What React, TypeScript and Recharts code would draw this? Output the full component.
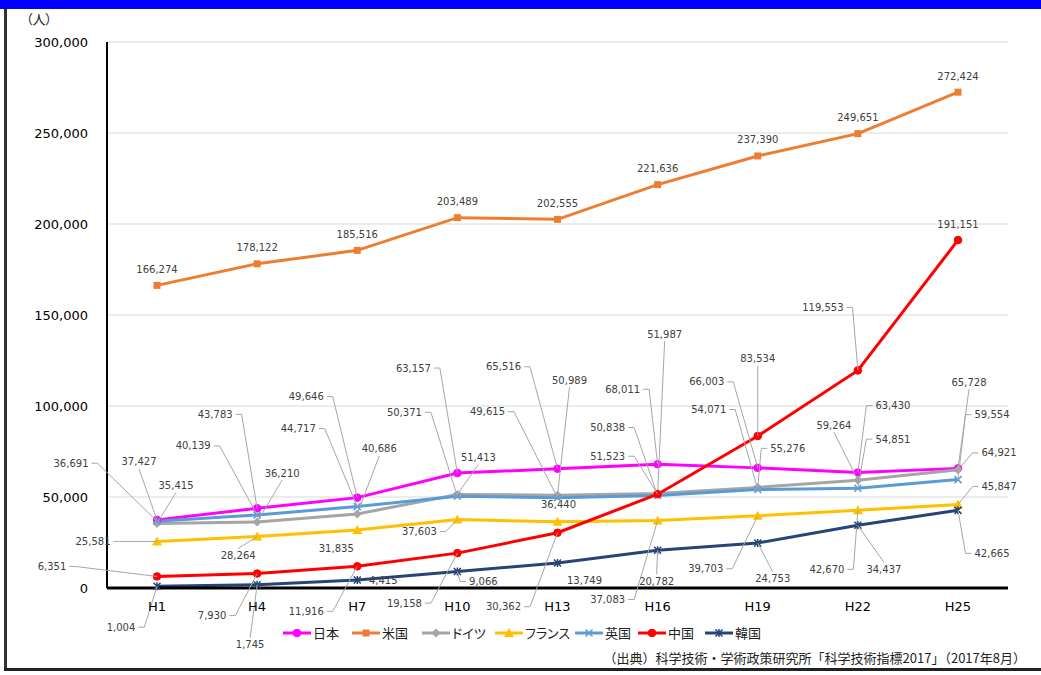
import { LineChart, Line, XAxis, YAxis, CartesianGrid } from "recharts";

const eras = ["H1", "H4", "H7", "H10", "H13", "H16", "H19", "H22", "H25"];
const japan = [37427, 43783, 49646, 63157, 65516, 68011, 66003, 63430, 65728];
const usa = [166274, 178122, 185516, 203489, 202555, 221636, 237390, 249651, 272424];
const germany = [35415, 36210, 40686, 51413, 50989, 51987, 55276, 59264, 64921];
const france = [25581, 28264, 31835, 37603, 36440, 37083, 39703, 42670, 45847];
const uk = [36691, 40139, 44717, 50371, 49615, 50838, 54071, 54851, 59554];
const china = [6351, 7930, 11916, 19158, 30362, 51523, 83534, 119553, 191151];
const korea = [1004, 1745, 4415, 9066, 13749, 20782, 24753, 34437, 42665];
const yTicks = [0, 50000, 100000, 150000, 200000, 250000, 300000];

// where each data label sits, relative to its point: [dx, dy, leader line?]
type Pos = [number, number, boolean];
const japanPos: Pos[] = [[-18, -58, true], [-42, -94, true], [-51, -101, true], [-44, -105, true], [-54, -102, true], [-35, -75, true], [-51, -86, true], [35, -67, true], [11, -86, true]];
const usaPos: Pos[] = eras.map(() => [0, -16, false]);
const germanyPos: Pos[] = [[19, -38, true], [25, -49, true], [22, -65, true], [21, -37, true], [12, -115, true], [7, -159, true], [30, -39, true], [-24, -55, true], [41, -17, true]];
const francePos: Pos[] = [[-64, 0, true], [-19, 19, true], [-21, 18, false], [-38, 12, true], [1, -17, false], [-50, 79, true], [-52, 53, true], [-31, 59, true], [41, -18, true]];
const ukPos: Pos[] = [[-86, -58, true], [-64, -69, true], [-59, -78, true], [-53, -84, true], [-70, -86, true], [-50, -68, true], [-49, -80, true], [35, -49, true], [34, -65, true]];
const chinaPos: Pos[] = [[-105, -10, true], [-45, 42, true], [-51, 45, true], [-53, 50, true], [-54, 74, true], [-50, -38, true], [0, -77, true], [-35, -63, true], [0, -16, false]];
const koreaPos: Pos[] = [[-36, 41, true], [-7, 60, true], [26, 1, false], [26, 10, true], [27, 18, false], [-1, 31, true], [15, 36, true], [26, 44, true], [34, 43, true]];

const data = eras.map((era, i) => ({
  era,
  japan: japan[i],
  usa: usa[i],
  germany: germany[i],
  france: france[i],
  uk: uk[i],
  china: china[i],
  korea: korea[i],
}));

const fmt = (v: number) => v.toLocaleString("en-US");
const textWidth = (s: string) => s.split("").reduce((w, c) => w + (c === "," ? 3.18 : 6.36), 0);

function Marker({ shape, cx, cy, color }: { shape: string; cx: number; cy: number; color: string }) {
  switch (shape) {
    case "circle":
      return <circle cx={cx} cy={cy} r={3.8} fill={color} stroke={color} />;
    case "square":
      return <rect x={cx - 3.5} y={cy - 3.5} width={7} height={7} fill={color} />;
    case "diamond":
      return <polygon points={`${cx},${cy - 4.5} ${cx + 4.5},${cy} ${cx},${cy + 4.5} ${cx - 4.5},${cy}`} fill={color} />;
    case "triangle":
      return <polygon points={`${cx},${cy - 5} ${cx + 5},${cy + 4} ${cx - 5},${cy + 4}`} fill={color} />;
    case "x":
      return (
        <path d={`M${cx - 3.5},${cy - 3.5}L${cx + 3.5},${cy + 3.5}M${cx - 3.5},${cy + 3.5}L${cx + 3.5},${cy - 3.5}`} stroke={color} strokeWidth={1.5} />
      );
    default:
      return (
        <path
          d={`M${cx - 3.5},${cy - 3.5}L${cx + 3.5},${cy + 3.5}M${cx - 3.5},${cy + 3.5}L${cx + 3.5},${cy - 3.5}M${cx},${cy - 4}L${cx},${cy + 4}`}
          stroke={color}
          strokeWidth={1.5}
        />
      );
  }
}

function DataLabel({ cx, cy, text, pos }: { cx: number; cy: number; text: string; pos: Pos }) {
  const [dx, dy, leader] = pos;
  const lx = cx + dx;
  const ly = cy + dy;
  const hw = textWidth(text) / 2;
  const hh = 6;
  let d = "";
  if (leader) {
    const gapX = Math.abs(dx) - hw;
    if (gapX > 10 && dx < 0) {
      const sx = lx + hw + 3;
      d = `M${sx},${ly}H${sx + 6}L${cx},${cy}`;
    } else if (gapX > 10) {
      const sx = lx - hw - 3;
      d = `M${sx},${ly}H${sx - 6}L${cx},${cy}`;
    } else if (dy < 0) {
      d = `M${lx},${ly + hh + 1}L${cx},${cy}`;
    } else {
      d = `M${lx},${ly - hh - 1}L${cx},${cy}`;
    }
  }
  return (
    <g>
      {d && <path d={d} stroke="#a6a6a6" strokeWidth={1} fill="none" />}
      <text x={lx} y={ly} textAnchor="middle" dominantBaseline="central" fontSize={10} fill="#404040" fontFamily="DejaVu Sans">
        {text}
      </text>
    </g>
  );
}

const makeDot = (shape: string, color: string, values: number[], positions: Pos[]) => (props: any) => {
  const { cx, cy, index } = props;
  return (
    <g key={`dot-${index}`}>
      <Marker shape={shape} cx={cx} cy={cy} color={color} />
      <DataLabel cx={cx} cy={cy} text={fmt(values[index])} pos={positions[index]} />
    </g>
  );
};

const series = [
  { key: "japan", name: "日本", color: "#FF00FF", shape: "circle", values: japan, pos: japanPos, lx: 283 },
  { key: "usa", name: "米国", color: "#ED7D31", shape: "square", values: usa, pos: usaPos, lx: 352 },
  { key: "germany", name: "ドイツ", color: "#A5A5A5", shape: "diamond", values: germany, pos: germanyPos, lx: 422 },
  { key: "france", name: "フランス", color: "#FFC000", shape: "triangle", values: france, pos: francePos, lx: 495 },
  { key: "uk", name: "英国", color: "#5B9BD5", shape: "x", values: uk, pos: ukPos, lx: 575 },
  { key: "china", name: "中国", color: "#FF0000", shape: "circle", values: china, pos: chinaPos, lx: 638 },
  { key: "korea", name: "韓国", color: "#264478", shape: "star", values: korea, pos: koreaPos, lx: 705 },
];

const jp = "'Noto Sans CJK JP', 'DejaVu Sans', sans-serif";
const jpText = { fontFamily: jp, fontFeatureSettings: "'palt'", color: "#222" };

export default function App() {
  return (
    <div style={{ position: "fixed", left: 0, top: 0, width: 1041, height: 675, background: "#fff", overflow: "hidden" }}>
      <div style={{ position: "absolute", left: 0, top: 0, width: 1041, height: 9, background: "#0000FF" }} />
      <div style={{ position: "absolute", left: 4, top: 9, width: 3, height: 662, background: "#333" }} />
      <div style={{ position: "absolute", left: 4, top: 668, width: 1037, height: 3, background: "#222" }} />
      <div style={{ position: "absolute", left: 26, top: 11, fontSize: 13, lineHeight: "16px", ...jpText }}>（人）</div>

      <div style={{ position: "absolute", left: 0, top: 0 }}>
        <LineChart width={1041} height={675} data={data} margin={{ top: 42, right: 33, bottom: 57, left: 47 }} style={{ fontFamily: "DejaVu Sans" }}>
          <CartesianGrid vertical={false} stroke="#d9d9d9" strokeWidth={1} />
          <XAxis
            dataKey="era"
            height={30}
            padding={{ left: 50, right: 50 }}
            axisLine={{ stroke: "#000", strokeWidth: 3 }}
            tickLine={false}
            tickMargin={8}
            tick={{ fontSize: 13, fill: "#000", fontFamily: "DejaVu Sans" }}
          />
          <YAxis
            width={60}
            domain={[0, 300000]}
            ticks={yTicks}
            tickFormatter={fmt}
            axisLine={{ stroke: "#000", strokeWidth: 2 }}
            tickLine={false}
            tickMargin={13}
            tick={{ fontSize: 13, fill: "#000", fontFamily: "DejaVu Sans" }}
          />
          {series.map((s) => (
            <Line
              key={s.key}
              dataKey={s.key}
              name={s.name}
              stroke={s.color}
              strokeWidth={3}
              type="linear"
              dot={makeDot(s.shape, s.color, s.values, s.pos)}
              activeDot={false}
              isAnimationActive={false}
            />
          ))}
        </LineChart>
      </div>

      {series.map((s) => (
        <div key={s.key} style={{ position: "absolute", left: s.lx, top: 625, height: 16, display: "flex", alignItems: "center" }}>
          <svg width={28} height={12} style={{ display: "block" }}>
            <line x1={0} y1={6} x2={28} y2={6} stroke={s.color} strokeWidth={3} />
            <Marker shape={s.shape} cx={14} cy={6} color={s.color} />
          </svg>
          <span style={{ marginLeft: 2, fontSize: 13, lineHeight: "16px", ...jpText }}>{s.name}</span>
        </div>
      ))}

      <div style={{ position: "absolute", right: 15, top: 649, fontSize: 13, lineHeight: "17px", whiteSpace: "nowrap", fontFamily: jp, color: "#222" }}>
        （出典）科学技術・学術政策研究所「科学技術指標2017」（2017年8月）
      </div>
    </div>
  );
}
